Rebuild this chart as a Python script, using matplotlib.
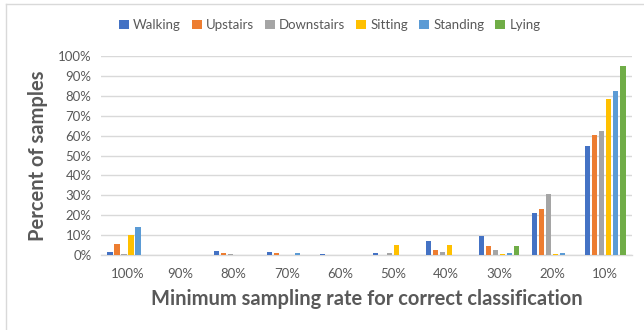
import matplotlib
matplotlib.use("Agg")
import matplotlib.pyplot as plt
from matplotlib.lines import Line2D
import numpy as np

plt.rcParams['font.family'] = ['Lato', 'DejaVu Sans']

categories = ["100%", "90%", "80%", "70%", "60%", "50%", "40%", "30%", "20%", "10%"]
walking    = [1.5, 0.2, 1.9, 1.5, 0.5, 0.9, 7.0, 9.7, 21.0, 55.0]
upstairs   = [5.4, 0.2, 1.3, 1.0, 0.2, 0.2, 2.8, 4.6, 23.2, 60.2]
downstairs = [0.3, 0.0, 0.3, 0.2, 0.2, 0.8, 1.4, 2.8, 30.6, 62.5]
sitting    = [10.2, 0.0, 0.0, 0.0, 0.0, 5.2, 5.2, 0.4, 0.4, 78.2]
standing   = [13.9, 0.0, 0.0, 1.0, 0.0, 0.0, 0.0, 1.2, 1.0, 82.7]
lying      = [0.0, 0.0, 0.0, 0.0, 0.0, 0.2, 0.0, 4.8, 0.0, 94.8]

series = [
    ("Walking", walking, "#4472C4"),
    ("Upstairs", upstairs, "#ED7D31"),
    ("Downstairs", downstairs, "#A5A5A5"),
    ("Sitting", sitting, "#FFC000"),
    ("Standing", standing, "#5B9BD5"),
    ("Lying", lying, "#70AD47"),
]

text_color = "#595959"
grid_color = "#d9d9d9"

fig = plt.figure(figsize=(6.44, 3.30), dpi=100)
ax = fig.add_axes([0.157, 0.227, 0.824, 0.603])

x = np.arange(len(categories))
pitch = 0.132
width = 0.104
n = len(series)
for i, (name, vals, color) in enumerate(series):
    offs = (i - (n - 1) / 2) * pitch
    ax.bar(x + offs, vals, width=width, color=color, label=name, zorder=3)

ax.set_xlim(-0.5, len(categories) - 0.5)
ax.set_ylim(0, 100)
ax.set_yticks(np.arange(0, 101, 10))
ax.set_yticklabels([f"{v}%" for v in range(0, 101, 10)])
ax.set_xticks(x)
ax.set_xticklabels(categories)
ax.yaxis.grid(True, color=grid_color, linewidth=1, zorder=0)
ax.set_axisbelow(True)
for s in ["top", "right", "left"]:
    ax.spines[s].set_visible(False)
ax.spines["bottom"].set_color(grid_color)
ax.spines["bottom"].set_linewidth(1)
ax.tick_params(axis="both", length=0, labelsize=9.5, colors=text_color)
ax.tick_params(axis="x", pad=9)
ax.tick_params(axis="y", pad=7)

ax.set_ylabel("Percent of samples", fontsize=14.5, fontweight="bold",
              color=text_color, labelpad=7)
ax.set_xlabel("Minimum sampling rate for correct classification", fontsize=14.5,
              fontweight="bold", color=text_color, labelpad=7)

leg = fig.legend(loc="center", bbox_to_anchor=(0.512, 0.924), ncol=6, frameon=False,
                 fontsize=9.5, handlelength=0.75, handleheight=0.75,
                 handletextpad=0.3, columnspacing=0.85)
for t in leg.get_texts():
    t.set_color(text_color)

# light frame around the chart area
fig.add_artist(Line2D([6 / 644, 6 / 644], [0, 1 - 3.5 / 330], transform=fig.transFigure,
                      color=grid_color, linewidth=1))
fig.add_artist(Line2D([6 / 644, 1], [1 - 3.5 / 330, 1 - 3.5 / 330], transform=fig.transFigure,
                      color=grid_color, linewidth=1))

fig.savefig("out.png", dpi=100)
